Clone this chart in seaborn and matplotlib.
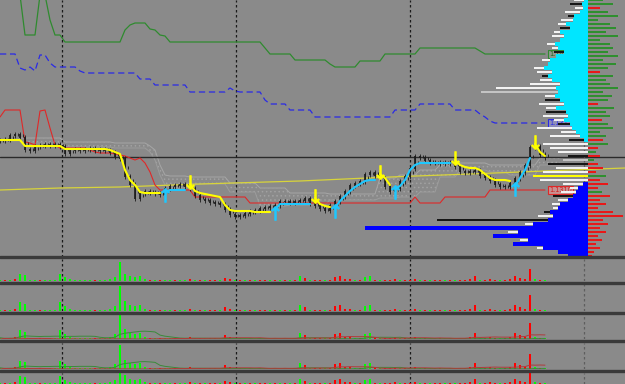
import numpy as np
import pandas as pd
import matplotlib
matplotlib.use("Agg")
import matplotlib.pyplot as plt
import seaborn as sns
from matplotlib.lines import Line2D

BG = "#8a8a8a"
sns.set_theme(style="white", rc={"axes.facecolor": BG, "figure.facecolor": BG})
plt.rcParams['font.family'] = ['DejaVu Sans']
plt.rcParams['hatch.linewidth'] = 0.6

# ---------------- data (prices in points, /10000 = price) ----------------
close_pts = [11360, 11361, 11365, 11366, 11363, 11351, 11350, 11354, 11355, 11356,
             11355, 11356, 11354, 11347, 11350, 11351, 11350, 11351, 11352, 11350,
             11351, 11350, 11348, 11344, 11342, 11324, 11316, 11302, 11307, 11309,
             11308, 11307, 11306, 11312, 11314, 11315, 11316, 11314, 11312, 11305,
             11301, 11300, 11298, 11297, 11296, 11291, 11286, 11284, 11285, 11287,
             11289, 11290, 11292, 11293, 11294, 11295, 11299, 11299, 11298, 11299,
             11300, 11302, 11297, 11295, 11292, 11290, 11295, 11299, 11304, 11309,
             11315, 11317, 11319, 11326, 11328, 11325, 11322, 11314, 11309, 11312,
             11319, 11324, 11332, 11344, 11343, 11340, 11338, 11338, 11337, 11338,
             11337, 11334, 11329, 11328, 11329, 11330, 11325, 11323, 11320, 11316,
             11314, 11314, 11317, 11322, 11328, 11335, 11353, 11354, 11346, 11343]

st_pts = ([11360]*5 + [11354]*8 + [11351]*9 + [11350, 11348, 11346, 11330, 11320, 11315, 11308]
          + [11307]*4 + [11308] + [11310]*4
          + [11316, 11309, 11307, 11306, 11305, 11304, 11303, 11295, 11290] + [11289]*4 + [11288]*4
          + [11290] + [11296]*7
          + [11302, 11296, 11294, 11293]
          + [11292, 11299, 11304, 11309, 11313, 11316, 11319, 11320, 11320]
          + [11326, 11322, 11315]
          + [11311, 11314, 11320, 11330, 11335] + [11337]*7
          + [11340, 11335, 11333, 11332, 11332, 11330, 11326, 11322, 11320, 11320, 11320, 11319]
          + [11314, 11322, 11330, 11342]
          + [11356, 11348, 11344])
st_trend = ([-1]*33 + [1]*5 + [-1]*17 + [1]*8 + [-1]*4 + [1]*9 + [-1]*3
            + [1]*12 + [-1]*12 + [1]*4 + [-1]*3)

red_pts = ([11383] + [11390]*4 + [11358, 11357, 11355, 11389, 11390, 11372, 11355] + [11352]*6
           + [11350, 11348] + [11347]*3
           + [11346, 11345, 11344, 11342, 11340, 11342, 11337, 11328, 11315]
           + [11310]*7 + [11303]*11 + [11297]*33 + [11303] + [11297]*5 + [11303]*9 + [11310]*12)

green_pts = ([11515]*4 + [11505] + [11465]*3 + [11505]*2 + [11480] + [11465]*2 + [11458]*12
             + [11470, 11475, 11477, 11477, 11477, 11471, 11470, 11465, 11464]
             + [11458]*19 + [11452] + [11446]*5 + [11440]*7 + [11436] + [11433]*5
             + [11439]*5 + [11446]*7 + [11452]*12 + [11449] + [11446]*13)

blue_pts = ([11446]*4 + [11432, 11430, 11433, 11429, 11445, 11445, 11437] + [11433]*5 + [11429]
            + [11427]*11 + [11421]*3 + [11415]*7 + [11408]*8 + [11412, 11409] + [11408]*5
            + [11400] + [11396]*4 + [11390]*5 + [11383]*16 + [11390]*5 + [11396]*7
            + [11390]*5 + [11386, 11383, 11379] + [11377]*11)

cloud_start = 4
cloud_up = ([11362]*9 + [11358]*10 + [11357]*7 + [11354, 11350, 11335, 11325] + [11324]*4
            + [11323]*8 + [11317]*6 + [11312]*6 + [11307]*8 + [11306]*10 + [11322]*4
            + [11325]*4 + [11330]*4 + [11335]*4 + [11337]*6 + [11335]*10 + [11342]*5)
cloud_lo = ([11359] + [11357]*8 + [11353]*10 + [11352]*7 + [11348, 11340, 11325, 11315]
            + [11312]*4 + [11316]*8 + [11308]*6 + [11294]*6 + [11295]*8 + [11300]*10
            + [11302]*4 + [11303]*4 + [11308]*4 + [11323]*4 + [11330]*6 + [11328]*4
            + [11325]*6 + [11335]*5)

trend_idx = [0, 12, 24, 40, 60, 78, 94, 109, 125]
trend_pts = [11310, 11312, 11313, 11316, 11319, 11323, 11326, 11329, 11332]

hline_pts = 11343
session_breaks = [12.4, 47.2, 82.0, 116.8]

# volume profile (levels every 4 points from 11500 down)
prof_base = [4, 6, 5, 8, 14, 15, 22, 18, 28, 24, 28, 33, 30, 24, 32, 38, 40, 44, 36, 40,
             36, 28, 32, 30, 33, 28, 24, 32, 22, 20, 24, 18, 16, 12, 8, 4, 0, 0, 0, 0,
             0, 0, 0, 0, 0, 0, 5, 10, 12, 15, 20, 28, 30, 38, 35, 40, 55, 223, 70, 95,
             60, 75, 45, 30, 20]
prof_ext = [10, 12, 8, 15, 6, 12, 8, 10, 6, 12, 0, 8, 6, 10, 0, 8, 0, 10, 15, 6,
            12, 30, 60, 77, 10, 15, 25, 10, 20, 25, 10, 12, 35, 15, 30, 15, 45, 38, 30, 20,
            25, 40, 32, 45, 55, 48, 20, 8, 15, 20, 10, 8, 5, 6, 15, 111, 8, 0, 10, 0,
            8, 0, 6, 0, 0]
prof_ext_col = ("wkwwkwwkww" "wwwkwwwwwk" "wwwgwkwwkw" "wkwwwkwwwk"
                "gkwwywwwwk" "wwwkwkwwww" "wwwww")
prof_right = [15, 25, 12, 20, 30, 10, 22, 28, 18, 30, 12, 22, 25, 20, 30, 15, 28, 20, 12, 25,
              18, 22, 30, 15, 24, 20, 10, 26, 18, 22, 14, 20, 25, 12, 18, 15, 20, 10, 8, 12,
              6, 10, 15, 8, 18, 12, 20, 10, 14, 22, 12, 18, 10, 25, 35, 15, 20, 12, 18, 10,
              14, 8, 12, 6, 4]
prof_right_col = ("ggrggggggg" "ggggggggrg" "ggggggrggg" "rggggrgrgr"
                  "grrrgrrrgr" "rrrrrrrrrrrrrrr")

vol = [1, 1, 1, 2, 7, 6, 1, 1, 1, 1,
       1, 1, 7, 4, 2, 1, 1, 1, 1, 1,
       1, 1, 2, 4, 20, 8, 5, 4, 5, 2,
       1, 1, 1, 1, 1, 1, 1, 1, 2, 1,
       1, 1, 1, 1, 1, 3, 2, 1, 1, 1,
       1, 1, 1, 1, 1, 1, 1, 1, 1, 1,
       5, 3, 1, 1, 1, 1, 1, 4, 5, 2,
       2, 1, 1, 4, 5, 1, 1, 1, 1, 2,
       1, 1, 1, 2, 1, 1, 1, 1, 1, 1,
       1, 1, 1, 1, 2, 5, 1, 1, 2, 1,
       1, 1, 2, 5, 3, 2, 13, 2, 1, 1]
vol_col = ("grgrggggrg" "gggggggggr" "gggggggggg" "rgrggrggrg" "rgrrgrrgrg"
           "rgrrgrgrgr" "grgrrgrrrr" "rgrggrgrrr" "grrrgrgrrg" "rgrrrrgrrr"
           "grrrrrrgrg")

# ---------------- layout ----------------
W, H = 625, 384
fig = plt.figure(figsize=(W/100, H/100), dpi=100, facecolor=BG)

def fx(px): return px / W
def fy(top, bot): return (1 - bot / H, (bot - top) / H)

XLIM = (0, 125)
YLIM = (11243, 11500)
b, h = fy(0, 257)
ax = fig.add_axes([0, b, 1, h])
ax.set_facecolor(BG)
ax.set_xlim(*XLIM); ax.set_ylim(*YLIM)
ax.set_axis_off()

idx = np.arange(len(close_pts))
close = np.array(close_pts, float)
opn = np.r_[close[0], close[:-1]]

# cloud
cidx = np.arange(cloud_start, cloud_start + len(cloud_up))
ax.fill_between(cidx, cloud_lo, cloud_up, facecolor="none", edgecolor="#a2a2a2",
                hatch="....", linewidth=0, zorder=1)
sns.lineplot(x=cidx, y=cloud_up, ax=ax, color="#a6a6a6", linewidth=0.7, estimator=None, sort=False, zorder=1)
sns.lineplot(x=cidx, y=cloud_lo, ax=ax, color="#9c9c9c", linewidth=0.7, estimator=None, sort=False, zorder=1)

# horizontal black line
ax.axhline(hline_pts, color="#2a2a2a", linewidth=1.0, zorder=2)

# session separators
for k, xb in enumerate(session_breaks):
    ax.axvline(xb, color="#1a1a1a" if k < 3 else "#5e5e5e", linewidth=0.9,
               linestyle=(0, (2, 2)), zorder=2)

# trend line
sns.lineplot(x=trend_idx, y=trend_pts, ax=ax, color="#d8d43a", linewidth=0.9, estimator=None, sort=False, zorder=3)

# level lines
sns.lineplot(x=idx, y=green_pts, ax=ax, color="#2f8a2f", linewidth=0.9, estimator=None, sort=False, zorder=3)
sns.lineplot(x=idx, y=blue_pts, ax=ax, color="#2a2ae6", linewidth=0.9, estimator=None, sort=False,
             linestyle=(0, (5, 3)), zorder=3)
sns.lineplot(x=idx, y=red_pts, ax=ax, color="#e02828", linewidth=0.8, estimator=None, sort=False, zorder=3)

# candles
lo = np.minimum(opn, close); hi = np.maximum(opn, close)
ax.vlines(idx, lo - 2.5, hi + 2.5, color="#1a1a1a", linewidth=0.6, zorder=4)
ax.vlines(idx + 0.5, (lo + hi) / 2 - 1.5, (lo + hi) / 2 + 1.5, color="#1a1a1a", linewidth=0.6, zorder=4)
ax.vlines(idx, lo - 0.5, hi + 0.5, color="#1a1a1a", linewidth=1.2, zorder=4)

# supertrend
st = np.array(st_pts, float); tr = np.array(st_trend)
starts = [0] + [i for i in range(1, len(tr)) if tr[i] != tr[i-1]]
ends = starts[1:] + [len(tr)]
for s, e in zip(starts, ends):
    col = "#ffff00" if tr[s] < 0 else "#1ec8ff"
    sns.lineplot(x=idx[s:e], y=st[s:e], ax=ax, color=col, linewidth=1.5, estimator=None, sort=False, zorder=5)
    if s > 0:
        if tr[s] < 0:
            ax.plot(idx[s], st[s] + 2, marker=r'$\downarrow$', markersize=10, color="#ffff00",
                    markeredgewidth=0.5, zorder=6)
        else:
            ax.plot(idx[s], st[s] - 3, marker=r'$\uparrow$', markersize=10, color="#1ec8ff",
                    markeredgewidth=0.5, zorder=6)

# labels at end of level lines
xl = len(close_pts) - 0.2
for val, ec, fc, tc in [(green_pts[-1], "#2f8a2f", "#8f9a8f", "#1f6a1f"),
                        (blue_pts[-1], "#2a2ae6", "#9090b8", "#2a2ae6"),
                        (red_pts[-1], "#e02828", "#c89090", "#d02020")]:
    ax.text(xl, val, f"{val/10000:.4f}", fontsize=4.8, color=tc, va="center", ha="left",
            zorder=8, bbox=dict(boxstyle="square,pad=0.2", fc=fc, ec=ec, lw=0.8))

# ---------------- volume profile ----------------
levels = 11500 - 4 * np.arange(len(prof_base))
last = close_pts[-1]
base_cols = ["#00e6ff" if lv > last else "#0000ff" for lv in levels]
cmap = {"w": "#f2f2f2", "k": "#161616", "g": "#c4c4c4", "y": "#ffff00", "r": "#ee1a1a"}

axl = fig.add_axes([fx(360), b, fx(228), h])
axl.set_facecolor("none"); axl.set_axis_off()
axl.set_xlim(228, 0); axl.set_ylim(*YLIM)
axl.barh(levels, prof_base, height=3.7, color=base_cols, linewidth=0)
axl.barh(levels, prof_ext, left=prof_base, height=2.0, color=[cmap[c] for c in prof_ext_col], linewidth=0)

axr = fig.add_axes([fx(588), b, fx(37), h])
axr.set_facecolor("none"); axr.set_axis_off()
axr.set_xlim(0, 37); axr.set_ylim(*YLIM)
axr.barh(levels, prof_right, height=2.4,
         color=["#2f8f2f" if c == "g" else "#e81818" for c in prof_right_col], linewidth=0)

# ---------------- lower panels ----------------
panels = [(259, 281, 23.5), (284, 311, 22), (314, 339, 20), (343, 369, 22), (373, 384, 10)]
vcols = ["#00ff00" if c == "g" else "#ff0000" for c in vol_col]
vs = pd.Series(vol, dtype=float)
gvol = vs.where([c == "g" for c in vol_col], 0).rolling(8, min_periods=1).mean()
rvol = vs.where([c == "r" for c in vol_col], 0).rolling(8, min_periods=1).mean()
for k, (t, bt, ymax) in enumerate(panels):
    pb, ph = fy(t, bt)
    a = fig.add_axes([0, pb, 1, ph])
    a.set_facecolor(BG); a.set_axis_off()
    a.set_xlim(*XLIM); a.set_ylim(0, ymax)
    a.bar(idx, vol, width=0.5, color=vcols, linewidth=0, zorder=3)
    if k in (2, 3):
        sns.lineplot(x=idx, y=gvol.values, ax=a, color="#3a8a3a", linewidth=0.7,
                     estimator=None, sort=False, zorder=4)
        sns.lineplot(x=idx, y=rvol.values, ax=a, color="#b03a3a", linewidth=0.7,
                     estimator=None, sort=False, zorder=4)
    if k < 4:
        a.axhline(0.15, xmin=0.86, color="#c8c8c8", linewidth=0.7, linestyle=(0, (2, 2)), zorder=2)
    for j, xb in enumerate(session_breaks):
        a.axvline(xb, color="#1a1a1a" if j < 3 else "#5e5e5e", linewidth=0.9,
                  linestyle=(0, (2, 2)), zorder=2)

# panel separators
for ysep in [257, 282.5, 312.5, 341, 371]:
    fig.add_artist(Line2D([0, 1], [1 - ysep / H] * 2, color="#3a3a3a", linewidth=2.4,
                          transform=fig.transFigure))

fig.savefig("out.png", dpi=100, facecolor=BG)
